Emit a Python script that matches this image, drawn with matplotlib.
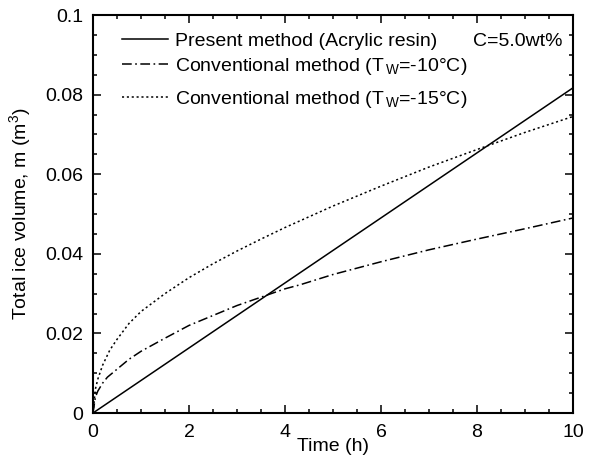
import matplotlib
matplotlib.use("Agg")
import matplotlib.pyplot as plt
from matplotlib.ticker import MultipleLocator, FixedLocator, FixedFormatter

plt.rcParams['font.family'] = ['Liberation Sans', 'DejaVu Sans']
plt.rcParams['mathtext.fontset'] = 'custom'
plt.rcParams['mathtext.rm'] = 'Liberation Sans'
plt.rcParams['mathtext.it'] = 'Liberation Sans:italic'
plt.rcParams['lines.scale_dashes'] = False

# Data
t_present = [0, 10]
v_present = [0, 0.0817]

t_m10 = [0, 0.05, 0.1, 0.2, 0.3, 0.5, 0.75, 1, 1.5, 2, 2.5, 3, 3.69, 4, 4.31, 5, 6, 7, 8, 9, 10]
v_m10 = [0, 0.004, 0.0055, 0.0075, 0.009, 0.011, 0.0135, 0.0155, 0.0188, 0.022, 0.0245,
         0.027, 0.0299, 0.0312, 0.0322, 0.0348, 0.038, 0.041, 0.0437, 0.0463, 0.049]

t_m15 = [0, 0.05, 0.1, 0.2, 0.35, 0.5, 0.75, 1, 1.5, 2, 2.5, 3, 3.5, 4, 5, 6, 7, 8, 9, 10]
v_m15 = [0, 0.006, 0.0085, 0.012, 0.0158, 0.0185, 0.0225, 0.0255, 0.030, 0.034, 0.0375,
         0.0407, 0.0437, 0.0466, 0.052, 0.057, 0.0618, 0.0662, 0.0705, 0.0745]

labels = ['Present method (Acrylic resin)',
          'Conventional method (T$_{\\,\\mathrm{W}}$=-10\u00b0C)',
          'Conventional method (T$_{\\,\\mathrm{W}}$=-15\u00b0C)']

y_ticks = [0, 0.02, 0.04, 0.06, 0.08, 0.1]
y_ticklabels = ['0', '0.02', '0.04', '0.06', '0.08', '0.1']
x_ticks = [0, 2, 4, 6, 8, 10]

fs = 14
W, H = 591, 457
L, R, T, B = 93, 573, 15, 413

fig = plt.figure(figsize=(W/100, H/100), dpi=100)
ax = fig.add_axes([L/W, (H-B)/H, (R-L)/W, (B-T)/H])

def ax_x(px):
    return (px - L) / (R - L)

def ax_y(py):
    return (B - py) / (B - T)

lw = 1.1
styles = [dict(), dict(dashes=(7, 2.5, 1.2, 2.5)), dict(dashes=(1.5, 2))]
ax.plot(t_present, v_present, color='black', lw=lw, **styles[0])
ax.plot(t_m10, v_m10, color='black', lw=lw, **styles[1])
ax.plot(t_m15, v_m15, color='black', lw=lw, **styles[2])

ax.set_xlim(0, 10)
ax.set_ylim(0, 0.1)
ax.xaxis.set_major_locator(FixedLocator(x_ticks))
ax.xaxis.set_minor_locator(MultipleLocator(0.5))
ax.yaxis.set_major_locator(FixedLocator(y_ticks))
ax.yaxis.set_major_formatter(FixedFormatter(y_ticklabels))
ax.yaxis.set_minor_locator(MultipleLocator(0.005))
ax.tick_params(which='both', direction='in', top=True, right=True, labelsize=fs, width=1.1)
ax.tick_params(which='major', length=5.5)
ax.tick_params(axis='x', which='major', pad=8)
ax.tick_params(axis='y', which='major', pad=7)
ax.tick_params(which='minor', length=3)
for s in ax.spines.values():
    s.set_linewidth(1.5)

ax.set_xlabel('Time (h)', fontsize=fs)
ax.xaxis.set_label_coords(0.5, -0.064)
ax.set_ylabel('Total ice volume, m (m$^{3}$)', fontsize=fs)
ax.yaxis.set_label_coords(-0.124, 0.5)

# Legend (manual layout to match the uneven row spacing)
baselines = [46, 71, 104]
for lab, st, bl in zip(labels, styles, baselines):
    ax.plot([ax_x(122), ax_x(168)], [ax_y(bl - 7)] * 2, color='black', lw=lw,
            transform=ax.transAxes, clip_on=False, **st)
    ax.text(ax_x(175), ax_y(bl), lab, transform=ax.transAxes, ha='left',
            va='baseline', fontsize=fs)

ax.text(ax_x(563), ax_y(46), 'C=5.0wt%', transform=ax.transAxes, ha='right',
        va='baseline', fontsize=fs)

fig.savefig('out.png', dpi=100)
